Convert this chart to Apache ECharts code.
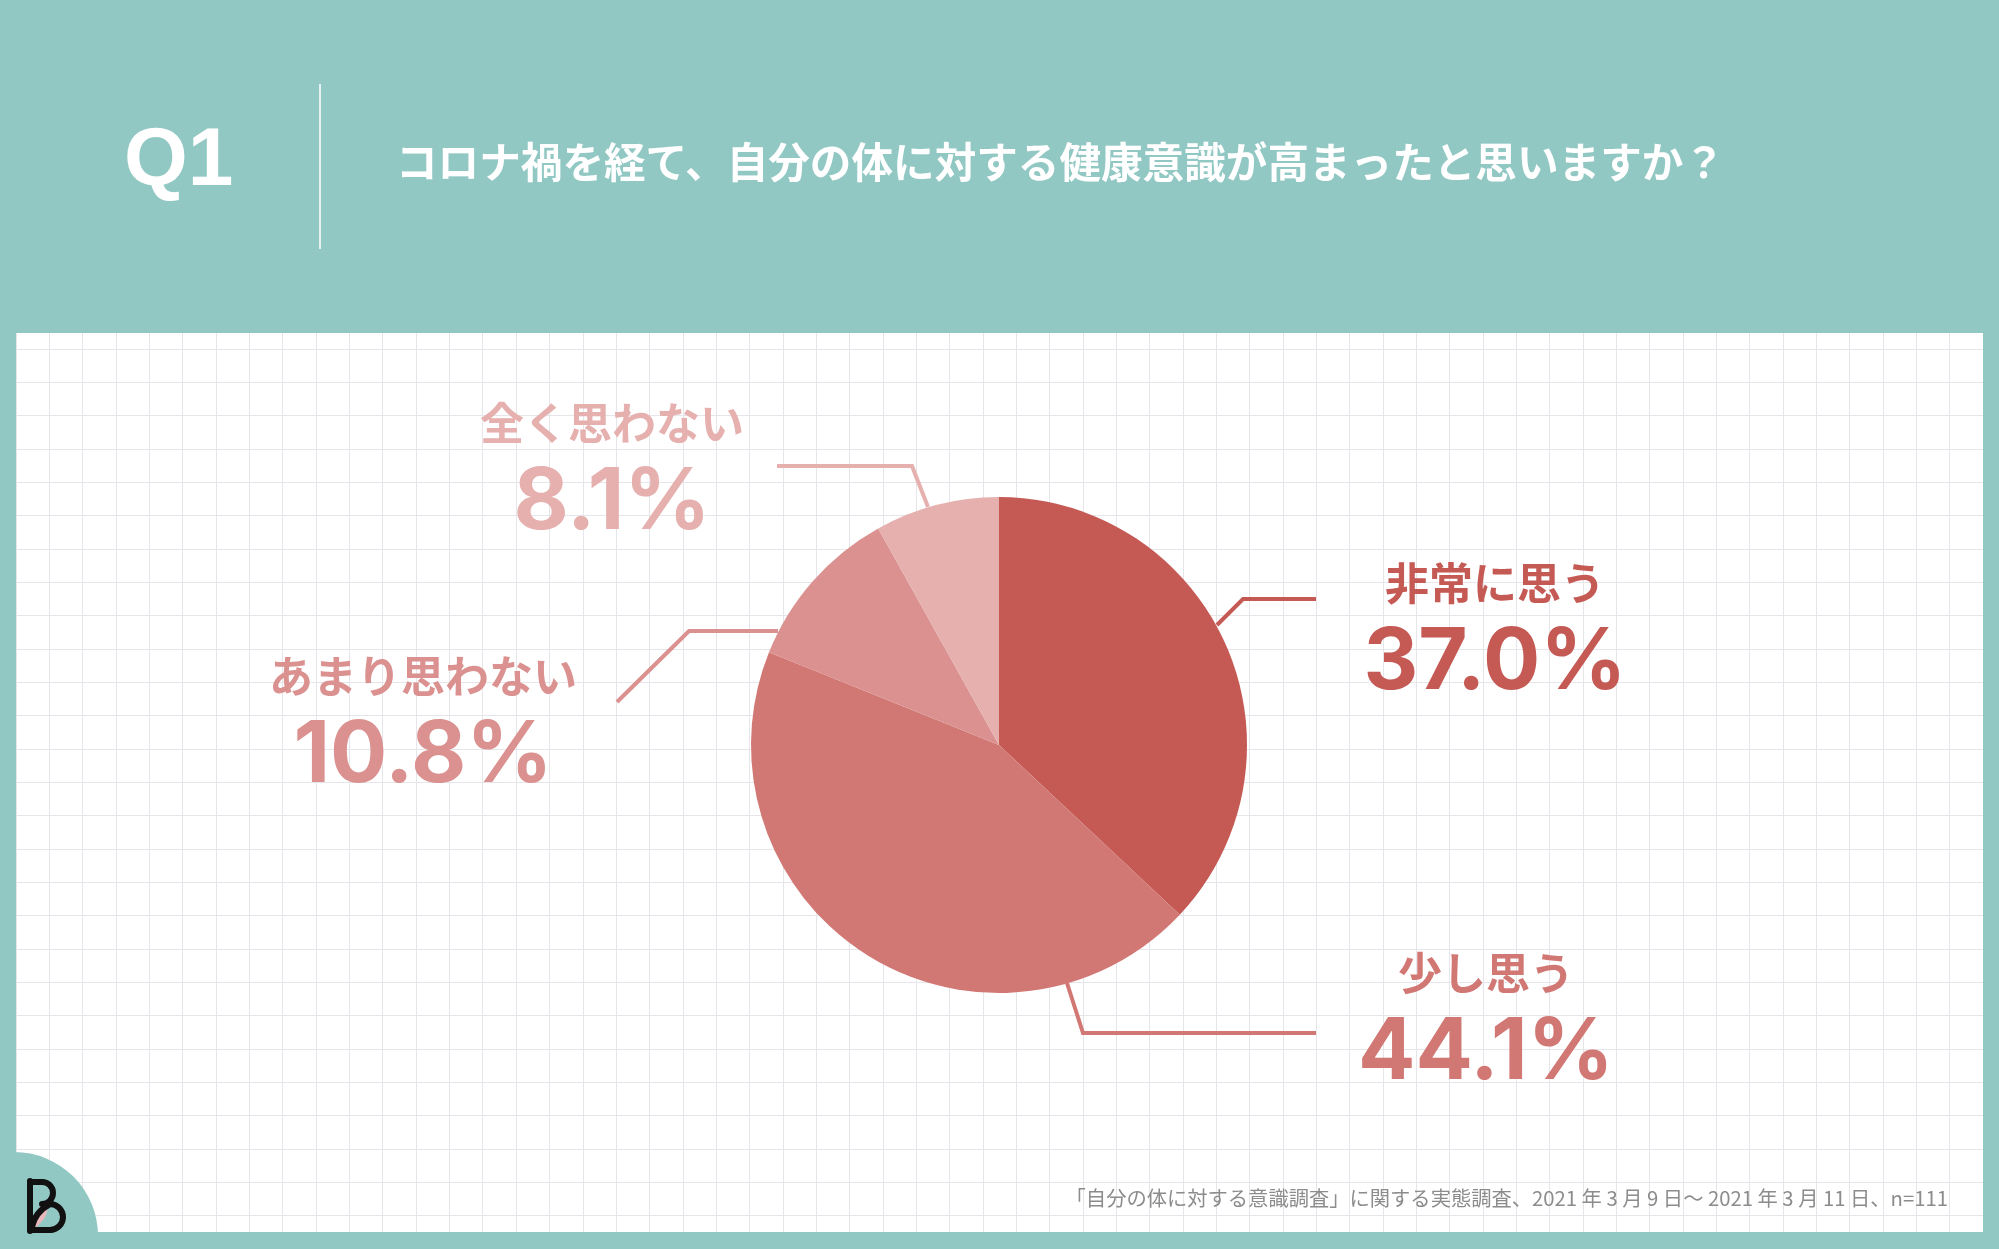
<!DOCTYPE html>
<html>
<head>
<meta charset="utf-8">
<script src="https://cdn.jsdelivr.net/npm/echarts@6/dist/echarts.min.js"></script>
<style>
html,body{margin:0;padding:0;background:#92C8C3;}
#chart{width:1999px;height:1249px;}
</style>
</head>
<body>
<div id="chart"></div>
<script>
// ---- data ----
const categories = ['非常に思う', '少し思う', 'あまり思わない', '全く思わない'];
const values = [37.0, 44.1, 10.8, 8.1];
const questionNo = 'Q1';
const questionText = 'コロナ禍を経て、自分の体に対する健康意識が高まったと思いますか？';
const sourceNote = '「自分の体に対する意識調査」に関する実態調査、2021 年 3 月 9 日〜 2021 年 3 月 11 日、n=111';

// ---- styles / layout ----
const sliceColors = ['#C55A55', '#D27874', '#DA918F', '#E5B0AE'];
const teal = '#92C8C3';
const leaders = [
  { start: [1217, 625], elbow: [1243, 599], end: [1316, 599], label: [1495, 555] },
  { start: [1067, 983], elbow: [1083, 1033], end: [1316, 1033], label: [1486, 945] },
  { start: [778, 631], elbow: [689, 631], end: [617, 702], label: [423, 648] },
  { start: [928, 507], elbow: [912, 466], end: [777, 466], label: [612, 395] }
];

const chart = echarts.init(document.getElementById('chart'), null, { renderer: 'canvas' });

const pieData = categories.map((c, i) => ({
  name: c,
  value: values[i],
  itemStyle: { color: sliceColors[i] },
  label: { color: sliceColors[i] },
  labelLine: { lineStyle: { color: sliceColors[i] } }
}));

const logoStroke = { stroke: '#111111', lineWidth: 6, fill: null, lineCap: 'round', lineJoin: 'round' };
const gridLine = { show: true, lineStyle: { color: '#e5e5ea', width: 1 } };
const hidden = { show: false };

const option = {
  backgroundColor: teal,
  animation: false,
  grid: { left: 16, top: 315.67, width: 1967, height: 933.33, show: false },
  xAxis: {
    type: 'value', min: 0, max: 59, interval: 1,
    axisLine: hidden, axisTick: hidden, axisLabel: hidden, splitLine: gridLine
  },
  yAxis: {
    type: 'value', min: 0, max: 28, interval: 1,
    axisLine: hidden, axisTick: hidden, axisLabel: hidden, splitLine: gridLine
  },
  graphic: [
    { type: 'rect', z: -10, shape: { x: 16, y: 333, width: 1967, height: 899 }, style: { fill: '#ffffff' } },
    // teal frame covering grid lines outside the white panel
    { type: 'rect', z: 3, shape: { x: 0, y: 0, width: 1999, height: 333 }, style: { fill: teal } },
    { type: 'rect', z: 3, shape: { x: 0, y: 1232, width: 1999, height: 17 }, style: { fill: teal } },
    { type: 'rect', z: 3, shape: { x: 0, y: 0, width: 16, height: 1249 }, style: { fill: teal } },
    { type: 'rect', z: 3, shape: { x: 1983, y: 0, width: 16, height: 1249 }, style: { fill: teal } },
    { type: 'line', z: 4, shape: { x1: 320, y1: 84, x2: 320, y2: 249 }, style: { stroke: '#ffffff', lineWidth: 1.5 } },
    { type: 'text', z: 4, x: 124, y: 162, style: { text: questionNo, fill: '#ffffff', font: 'bold 82px "Liberation Sans", Arial, sans-serif', textVerticalAlign: 'middle' } },
    { type: 'text', z: 4, x: 396, y: 162, style: { text: questionText, fill: '#ffffff', font: 'bold 41.6px "Noto Sans CJK JP", sans-serif', textVerticalAlign: 'middle' } },
    { type: 'text', z: 4, x: 1948, y: 1198, style: { text: sourceNote, fill: '#8c8c8c', font: '20.3px "Noto Sans CJK JP", sans-serif', textAlign: 'right', textVerticalAlign: 'middle' } },
    { type: 'circle', z: 10, shape: { cx: 14, cy: 1236, r: 84 }, style: { fill: teal } },
    { type: 'polygon', z: 11, shape: { points: [[33, 1228], [36, 1212], [47, 1203], [45, 1217]], smooth: 0.4 }, style: { fill: '#E7B7BC' } },
    { type: 'line', z: 12, shape: { x1: 30, y1: 1181, x2: 30, y2: 1231 }, style: logoStroke },
    { type: 'line', z: 12, shape: { x1: 30, y1: 1182, x2: 42, y2: 1182 }, style: logoStroke },
    { type: 'arc', z: 12, shape: { cx: 42, cy: 1193, r: 11, startAngle: -Math.PI / 2, endAngle: Math.PI / 2, clockwise: true }, style: logoStroke },
    { type: 'arc', z: 12, shape: { cx: 50, cy: 1217, r: 13, startAngle: -Math.PI / 2, endAngle: Math.PI / 2, clockwise: true }, style: logoStroke },
    { type: 'line', z: 12, shape: { x1: 30, y1: 1230, x2: 50, y2: 1230 }, style: logoStroke },
    { type: 'bezierCurve', z: 12, shape: { x1: 32, y1: 1227, cpx1: 35, cpy1: 1212, x2: 50, y2: 1204 }, style: logoStroke }
  ],
  series: [{
    type: 'pie',
    z: 5,
    silent: true,
    center: [999, 745],
    radius: 248,
    startAngle: 90,
    clockwise: true,
    avoidLabelOverlap: false,
    emphasis: { disabled: true },
    data: pieData,
    label: {
      show: true,
      position: 'outside',
      formatter: p => '{n|' + p.name + '}\n{v|' + p.value.toFixed(1) + '%}',
      rich: {
        n: { fontSize: 44, fontWeight: 'bold', fontFamily: '"Noto Sans CJK JP", sans-serif', lineHeight: 56, align: 'center' },
        v: { fontSize: 85, fontWeight: 'bold', fontFamily: 'Inter, "Liberation Sans", sans-serif', lineHeight: 104, align: 'center' }
      }
    },
    labelLine: { show: true, length: 20, length2: 40, smooth: false, lineStyle: { width: 4 } },
    labelLayout: function (p) {
      const L = leaders[p.dataIndex];
      return {
        x: L.label[0], y: L.label[1], align: 'center', verticalAlign: 'top',
        labelLinePoints: [L.start, L.elbow, L.end]
      };
    }
  }]
};
chart.setOption(option);
</script>
</body>
</html>
